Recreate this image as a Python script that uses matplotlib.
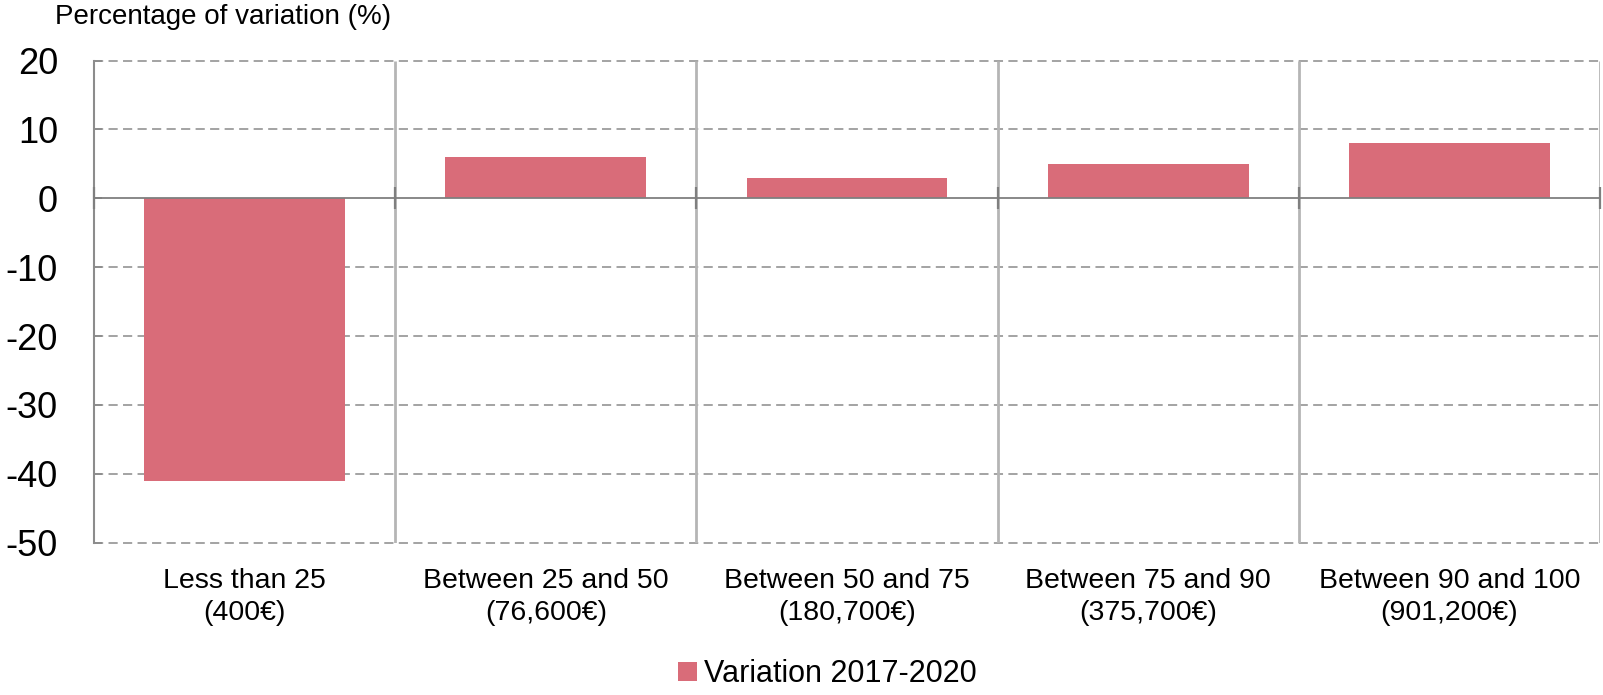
import matplotlib
matplotlib.use("Agg")
import matplotlib.pyplot as plt
from matplotlib import font_manager

# ---- data ----
categories = [
    "Less than 25\n(400€)",
    "Between 25 and 50\n(76,600€)",
    "Between 50 and 75\n(180,700€)",
    "Between 75 and 90\n(375,700€)",
    "Between 90 and 100\n(901,200€)",
]
variation = [-41, 6, 3, 5, 8]
series_name = "Variation 2017-2020"
y_ticks = [20, 10, 0, -10, -20, -30, -40, -50]

BAR_COLOR = "#d96c79"
GRID_COLOR = "#8a8a8a"
SEP_COLOR = "#b5b5b5"

plt.rcParams["font.family"] = ["Liberation Sans", "DejaVu Sans"]
installed = {f.name for f in font_manager.fontManager.ttflist}
if "Liberation Sans Narrow" in installed:
    legend_prop = {"family": "Liberation Sans Narrow", "size": 25}
else:
    legend_prop = {"family": "Liberation Sans", "size": 22}

fig = plt.figure(figsize=(16.03, 6.95), dpi=100)
ax = fig.add_axes([94 / 1603, 152.3 / 695, 1506 / 1603, 482.2 / 695])

x = list(range(len(categories)))
ax.set_xlim(-0.5, len(categories) - 0.5)
ax.set_ylim(-50, 20)

# dashed horizontal grid (0 gets a solid line instead)
for t in y_ticks:
    if t != 0:
        ax.axhline(t, color=GRID_COLOR, lw=1.1, ls=(0, (6, 3.5)), zorder=1, clip_on=False)

# light category separators
bounds = [i + 0.5 for i in x]
ax.vlines(bounds, -50, 20, color=SEP_COLOR, lw=2.0, zorder=1.5)

ax.bar(x, variation, width=2 / 3, color=BAR_COLOR, zorder=2, label=series_name)

# zero line with small ticks at category boundaries
ax.axhline(0, color="#7f7f7f", lw=1.3, zorder=3)
ax.plot([-0.5] + bounds, [0] * (len(bounds) + 1), ls="none", marker="|",
        ms=16, mew=1.6, color="#7f7f7f", zorder=3, clip_on=False)

for s in ["top", "right", "bottom"]:
    ax.spines[s].set_visible(False)
ax.spines["left"].set_color("#8c8c8c")
ax.spines["left"].set_linewidth(1.5)

ax.set_yticks(y_ticks)
ax.set_yticklabels([str(t) for t in y_ticks])
ax.tick_params(axis="y", direction="in", length=6, width=1.3, color="#8c8c8c",
               labelsize=26, pad=26)
ax.set_xticks(x)
ax.set_xticklabels(categories, fontsize=20.5, linespacing=1.32)
ax.tick_params(axis="x", length=0, pad=18)

fig.text(55 / 1603, 1 - 17 / 695, "Percentage of variation (%)", fontsize=20,
         va="center", ha="left")

fig.legend(loc="center", bbox_to_anchor=(827 / 1603, 1 - 674 / 695), frameon=False,
           prop=legend_prop, handlelength=0.65, handleheight=0.6,
           handletextpad=0.2)

fig.savefig("out.png", dpi=100)
